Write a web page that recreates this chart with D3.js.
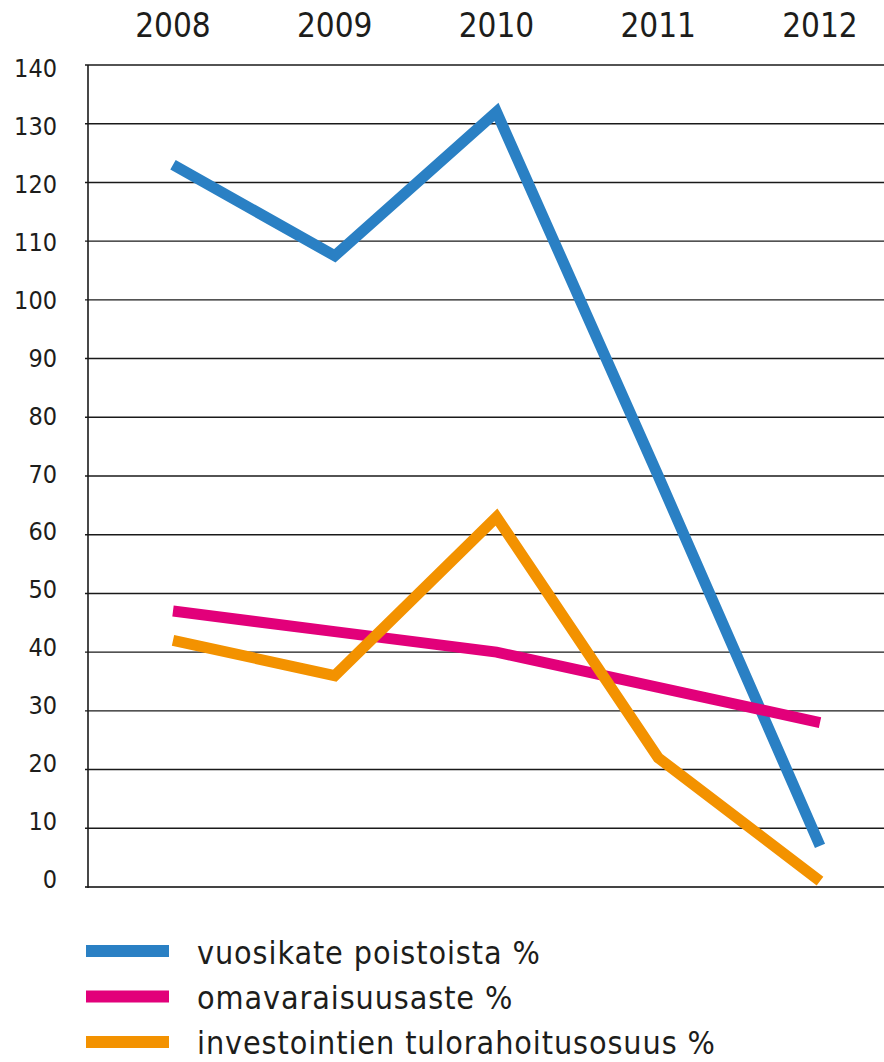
<!DOCTYPE html>
<html>
<head>
<meta charset="utf-8">
<script src="https://cdn.jsdelivr.net/npm/d3@7"></script>
<style>
	body { margin: 0; background: #fff; }
	text { font-family: "DejaVu Sans Condensed", "DejaVu Sans", sans-serif; font-stretch: condensed; fill: #1d1d1b; }
</style>
</head>
<body>
<div id="chart"></div>
<script>
// Data
const years = ["2008", "2009", "2010", "2011", "2012"];
const vuosikate = [123, 107.5, 132, 70, 7];
const omavaraisuus = [47, 43.5, 40, 34, 28];
const investoinnit = [42, 36, 63, 22, 1];
const yTicks = [0, 10, 20, 30, 40, 50, 60, 70, 80, 90, 100, 110, 120, 130, 140];

const seriesNames = ["vuosikate poistoista %", "omavaraisuusaste %", "investointien tulorahoitusosuus %"];
const seriesColors = ["#2a80c4", "#e2007a", "#f39200"];
const seriesValues = [vuosikate, omavaraisuus, investoinnit];

const width = 884, height = 1062;

let svg = d3.select("#chart")
	.append("svg")
	.attr("width", width)
	.attr("height", height);

let x = d3.scalePoint().domain(years).range([173, 820]);
let y = d3.scaleLinear().domain([0, 140]).range([887, 65]);
// tick labels in the original are spaced slightly tighter than the gridlines
let yLabel = d3.scaleLinear().domain([0, 140]).range([888, 77]);

// Gridlines
svg.append("g")
	.selectAll("line")
	.data(yTicks)
	.enter()
	.append("line")
	.attr("x1", 85)
	.attr("x2", width)
	.attr("y1", function(d) {return y(d)})
	.attr("y2", function(d) {return y(d)})
	.attr("stroke", function(d) {return d == 0 ? "#444" : "#1a1a1a"})
	.attr("stroke-width", function(d) {return d == 0 ? 2 : 1.4});

// Y axis line
svg.append("line")
	.attr("x1", 88).attr("x2", 88)
	.attr("y1", y(140)).attr("y2", y(0) + 1)
	.attr("stroke", "#1a1a1a")
	.attr("stroke-width", 1.6);

// Y tick labels
svg.append("g")
	.selectAll("text")
	.data(yTicks)
	.enter()
	.append("text")
	.attr("x", 57)
	.attr("y", function(d) {return yLabel(d)})
	.style("text-anchor", "end")
	.style("font-size", "25px")
	.text(function(d) {return d});

// Year labels on top
svg.append("g")
	.selectAll("text")
	.data(years)
	.enter()
	.append("text")
	.attr("x", function(d) {return x(d)})
	.attr("y", 37)
	.style("text-anchor", "middle")
	.style("font-size", "33px")
	.text(function(d) {return d});

// Lines
let line = d3.line()
	.x(function(d, i) {return x(years[i])})
	.y(function(d) {return y(d)});

svg.append("g")
	.selectAll("path")
	.data(seriesValues)
	.enter()
	.append("path")
	.attr("d", function(d) {return line(d)})
	.attr("fill", "none")
	.attr("stroke", function(d, i) {return seriesColors[i]})
	.attr("stroke-width", 11)
	.attr("stroke-linejoin", "miter");

// Legend
let legend = svg.append("g")
	.selectAll("g")
	.data(seriesNames)
	.enter()
	.append("g")
	.attr("transform", function(d, i) {return "translate(0," + (951 + i * 45.5) + ")"});

legend.append("line")
	.attr("x1", 86).attr("x2", 169)
	.attr("y1", 0).attr("y2", 0)
	.attr("stroke", function(d, i) {return seriesColors[i]})
	.attr("stroke-width", 12);

legend.append("text")
	.attr("x", 197)
	.attr("y", function(d, i) {return 13 - i * 0.5})
	.style("font-size", "32px")
	.style("letter-spacing", "0.9px")
	.text(function(d) {return d});
</script>
</body>
</html>
